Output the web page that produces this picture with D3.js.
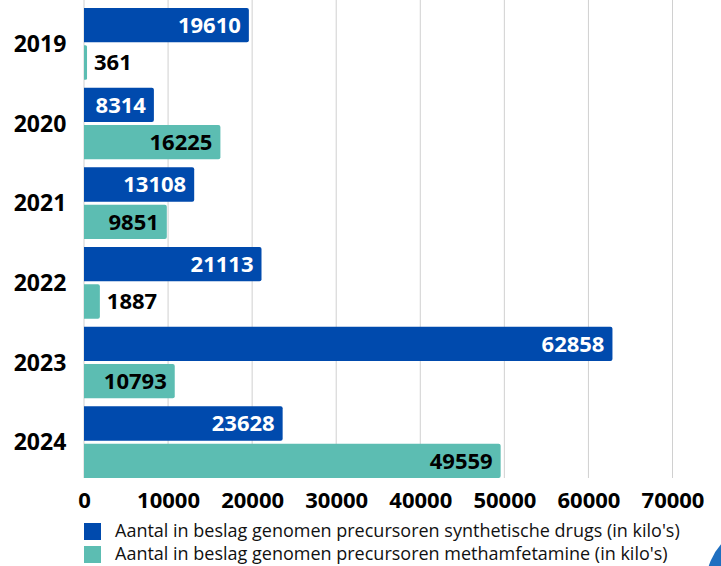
<!DOCTYPE html>
<html>
<head>
<meta charset="utf-8">
<script src="https://cdn.jsdelivr.net/npm/d3@7"></script>
<style>
  body { margin: 0; background: #fff; }
  svg { display: block; font-family: "Open Sans", "Noto Sans", sans-serif; }
</style>
</head>
<body>
<div id="chart"></div>
<script>
/* données */
let years = ['2019', '2020', '2021', '2022', '2023', '2024'];
let synthDrugs = [19610, 8314, 13108, 21113, 62858, 23628];
let methamfetamine = [361, 16225, 9851, 1887, 10793, 49559];
let xTicks = [0, 10000, 20000, 30000, 40000, 50000, 60000, 70000];
let seriesNames = [
  "Aantal in beslag genomen precursoren synthetische drugs (in kilo's)",
  "Aantal in beslag genomen precursoren methamfetamine (in kilo's)"
];
let seriesColors = ['#004aad', '#5cbdb2'];
let labelColors = ['#ffffff', '#000000'];

let width = 721,
    height = 566,
    left = 84,
    plotBottom = 478;

let svg = d3.select('#chart').append('svg')
  .attr('width', width)
  .attr('height', height);

/* échelles */
let xScale = d3.scaleLinear().domain([0, 70000]).range([left, 672.5]);
let yScale = d3.scaleBand().domain(years).range([4, 482]);
let subScale = d3.scaleBand().domain([0, 1])
  .range([4, yScale.bandwidth() - 4])
  .paddingInner(0.081);

/* grille */
svg.append('g').selectAll('line')
  .data(xTicks)
  .enter().append('line')
  .attr('x1', d => xScale(d)).attr('x2', d => xScale(d))
  .attr('y1', 0).attr('y2', plotBottom)
  .attr('stroke', '#d0d0d0')
  .attr('stroke-width', 1);

/* barres : coins arrondis à droite seulement */
let rows = years.map((y, i) => ({ year: y, values: [synthDrugs[i], methamfetamine[i]] }));

let groups = svg.append('g').selectAll('g')
  .data(rows)
  .enter().append('g')
  .attr('transform', d => 'translate(0,' + yScale(d.year) + ')');

function barPath(d) {
  let x0 = xScale(0), x1 = xScale(d.v), y0 = subScale(d.s), h = subScale.bandwidth();
  let r = Math.min(2, (x1 - x0) / 2);
  return 'M' + x0 + ',' + y0 +
    'H' + (x1 - r) + 'Q' + x1 + ',' + y0 + ' ' + x1 + ',' + (y0 + r) +
    'V' + (y0 + h - r) + 'Q' + x1 + ',' + (y0 + h) + ' ' + (x1 - r) + ',' + (y0 + h) +
    'H' + x0 + 'Z';
}

groups.selectAll('path')
  .data(d => d.values.map((v, s) => ({ v: v, s: s })))
  .enter().append('path')
  .attr('d', barPath)
  .attr('fill', d => seriesColors[d.s]);

/* étiquettes de valeur */
groups.selectAll('text.val')
  .data(d => d.values.map((v, s) => ({ v: v, s: s })))
  .enter().append('text')
  .attr('class', 'val')
  .attr('y', d => subScale(d.s) + subScale.bandwidth() / 2)
  .attr('dy', '0.36em')
  .style('font-size', '22px')
  .style('font-weight', 'bold')
  .text(d => d.v)
  .each(function (d) {
    let tw = this.getComputedTextLength();
    let barEnd = xScale(d.v);
    let t = d3.select(this);
    if (barEnd - xScale(0) > tw + 16) {
      t.attr('x', barEnd - 8).attr('text-anchor', 'end').attr('fill', labelColors[d.s]);
    } else {
      t.attr('x', barEnd + 7).attr('text-anchor', 'start').attr('fill', '#000');
    }
  });

/* années */
svg.append('g').selectAll('text')
  .data(years)
  .enter().append('text')
  .attr('x', 40)
  .attr('y', d => yScale(d) + yScale.bandwidth() / 2)
  .attr('dy', '0.36em')
  .attr('text-anchor', 'middle')
  .style('font-size', '23px')
  .style('font-weight', 'bold')
  .text(d => d);

/* axe X */
let xAxis = d3.axisBottom(xScale).tickValues(xTicks).tickSize(0).tickPadding(14).tickFormat(d => d);
let xg = svg.append('g')
  .attr('transform', 'translate(0,' + plotBottom + ')')
  .call(xAxis);
xg.select('.domain').remove();
xg.selectAll('text')
  .attr('fill', '#000')
  .style('font-family', '"Open Sans", "Noto Sans", sans-serif')
  .style('font-size', '22px')
  .style('font-weight', 'bold');

/* légende */
let legend = svg.append('g').selectAll('g')
  .data(seriesNames)
  .enter().append('g')
  .attr('transform', (d, i) => 'translate(84,' + (523 + i * 23) + ')');
legend.append('rect')
  .attr('width', 17).attr('height', 17)
  .attr('fill', (d, i) => seriesColors[i]);
legend.append('text')
  .attr('x', 31).attr('y', 8.5).attr('dy', '0.33em')
  .style('font-size', '18px')
  .attr('fill', '#111')
  .text(d => d);

/* décoration coin */
svg.append('circle')
  .attr('cx', 766).attr('cy', 584).attr('r', 60)
  .attr('fill', '#1f6fc0');
</script>
</body>
</html>
